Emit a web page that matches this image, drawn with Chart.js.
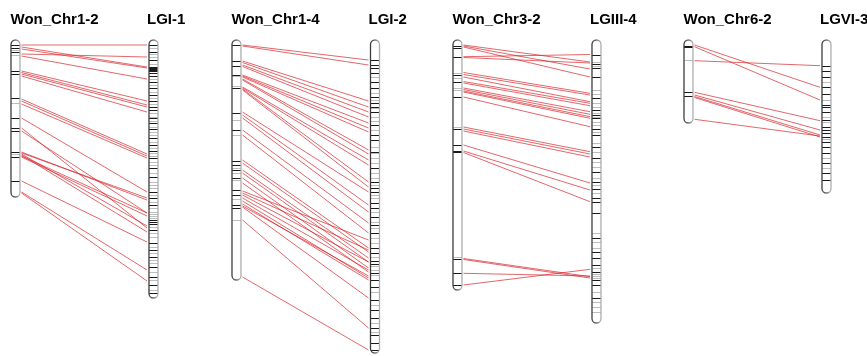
<!DOCTYPE html>
<html><head><meta charset="utf-8">
<script src="https://cdn.jsdelivr.net/npm/chart.js@4.4.0/dist/chart.umd.min.js"></script>
<style>html,body{margin:0;padding:0;background:#fff}#wrap{width:867px;height:356px;position:relative}</style>
</head><body><div id="wrap"><canvas id="c"></canvas></div>
<script>
// ---- DATA (positions measured from top of each chromosome) ----
const leftNames  = ["Won_Chr1-2", "Won_Chr1-4", "Won_Chr3-2", "Won_Chr6-2"];
const rightNames = ["LGI-1", "LGI-2", "LGIII-4", "LGVI-3"];
const leftLengths  = [157, 240, 250, 83];
const rightLengths = [258, 313, 283, 153];

// links: [position on left chromosome, position on right chromosome]
const links1 = [[5,5],[7,27],[9,28],[14,17],[16,39],
  [31,61],[32.5,65],[34,67],[36,72],
  [59,114],[61,116],[64,118],
  [78,152],[88,188],[91,173],
  [112,160],[113,158],[114,186],[115,192],[116,173],[117,176],
  [141,202],[152,230],[153,241]];
const links2 = [[5,20],[6,25],
  [21,61],[22.5,67],[25,72],[26.5,77],
  [35,83],[36,88],[37,92],[39,110],[40,114],
  [47,120],[48,125],[49,142],[50,147],
  [72,152],[75,165],[78,172],
  [90,183],[95,193],
  [120,208],[123,212],[130,218],[133,222],[138,228],[143,232],
  [151,200],[153,210],[155,222],[158,230],[161,238],[164,240],[166,236],[167,258],
  [180,288],[237,310]];
const links3 = [[5,22],[6,29],[7,37],[16.7,14.5],[17.5,23],
  [32.5,53.3],[34.5,55],[37,61.7],[41.5,63.3],[43,65.7],[48,71.7],[49.5,74.3],[51,76.7],[52,78.3],[57,86.7],
  [87,111.7],[89,114],[91,117],
  [105,143],[111,150],[112.5,161.7],
  [218.5,236.7],[219.5,238],[233.3,236],[245,229.3]];
const links4 = [[5,47.3],[6.7,60],[20.7,25.7],[52.3,80.7],[55,90],[56.5,95],[57.5,97],[79.3,96]];

// bands (dark / grey) per chromosome
const bandsDarkL1 = [5,8,12,31,34,58,78,88,91,112,117,141];
const bandsGreyL1 = [10,15,63,114];
const bandsDarkR1 = [5,12,20,27,28,29,30,31,33,36,42,48,55,61,67,70,78,83,89,98,105,111,118,128,137,152,158,165,180,182,184,190,203,210,217,227,237,245,253];
const bandsGreyR1 = [8,14,17,24,39,45,52,58,64,73,77,81,87,92,95,102,108,113,116,122,125,133,142,145,148,155,162,168,172,174,176,178,187,193,197,207,213,220,223,232,240,250];
const bandsDarkL2 = [5,21,26,35,48,73,90,121,125,130,138,150,155,165,168];
const bandsGreyL2 = [36,46,80,95,128,133,140,159,180];
const bandsDarkR2 = [20,25,28,33,42,48,57,63,67,72,85,95,100,112,128,142,148,152,163,168,177,185,193,208,213,221,224,233,240,247,260,270,278,288,295,303,310];
const bandsGreyR2 = [37,53,60,68,77,81,90,107,113,118,123,133,138,145,155,158,172,182,188,198,203,217,226,230,235,252,265,283,292];
const bandsDarkL3 = [6,7.7,16.7,35,41.7,56.7,89.3,105,111,112.3,219,233.3,245];
const bandsGreyL3 = [33,38,47.7,50,86.7,216.7];
const bandsDarkR3 = [15,24.3,28.3,36.7,58.3,70,75,78.3,89,95,106.7,117.7,131.7,141.7,149,158.3,161.7,173.3,198.3,211.7,217.7,225,232.3,240,245,258.3];
const bandsGreyR3 = [21.7,26,50,54.3,63.3,66.7,73.3,76.7,81.7,85,91.7,95,103.3,111.7,121.7,126.7,138.3,145,153.3,193.3,201.7,208.3,228.3,234.3,236,237.7,251.7,261.7,266.7,271.7];
const bandsDarkL4 = [5.7,7,52.3,55.7];
const bandsGreyL4 = [20];
const bandsDarkR4 = [25.7,30.7,36.7,47.3,54,65,67.3,71.7,80,86.7,90,92.7,96.7,101.7,106.7,112.7,123.3,133.3,140];
const bandsGreyR4 = [41.7,60,76.7,81.7,99.3,118.3,128.3];

// ---- LAYOUT ----
const pairX = [[15.5,153.5],[236.5,375],[457.5,596.5],[688.5,826.5]];
const halfW = 4.5;
const allLinks = [links1, links2, links3, links4];
const leftDark = [bandsDarkL1,bandsDarkL2,bandsDarkL3,bandsDarkL4];
const leftGrey = [bandsGreyL1,bandsGreyL2,bandsGreyL3,bandsGreyL4];
const rightDark = [bandsDarkR1,bandsDarkR2,bandsDarkR3,bandsDarkR4];
const rightGrey = [bandsGreyR1,bandsGreyR2,bandsGreyR3,bandsGreyR4];

const datasets = allLinks.map((links, i) => {
  const data = [];
  links.forEach(([l, r]) => {
    data.push({x: pairX[i][0] + halfW + 1.5, y: l});
    data.push({x: pairX[i][1] - halfW - 2, y: r});
    data.push({x: pairX[i][1], y: null});
  });
  return {data, borderColor: 'rgba(212,30,36,0.8)', borderWidth: 0.85, pointRadius: 0, spanGaps: false, tension: 0};
});

function chromPath(ctx, x0, x1, yt, yb) {
  const r = (x1 - x0) / 2, mx = (x0 + x1) / 2;
  ctx.beginPath();
  ctx.moveTo(x0, yt + r);
  ctx.arc(mx, yt + r, r, Math.PI, 0);
  ctx.lineTo(x1, yb - r);
  ctx.arc(mx, yb - r, r, 0, Math.PI);
  ctx.closePath();
}

function drawChrom(ctx, xs, ys, cx, len, dark, grey) {
  const x0 = xs.getPixelForValue(cx - halfW), x1 = xs.getPixelForValue(cx + halfW);
  const yt = ys.getPixelForValue(0), yb = ys.getPixelForValue(len);
  ctx.save();
  chromPath(ctx, x0, x1, yt, yb);
  ctx.fillStyle = '#fff';
  ctx.fill();
  ctx.save();
  ctx.clip();
  grey.forEach(v => { const y = Math.round(ys.getPixelForValue(v)) + 0.5;
    ctx.strokeStyle = '#bdbdbd'; ctx.lineWidth = 1; ctx.beginPath(); ctx.moveTo(x0, y); ctx.lineTo(x1, y); ctx.stroke(); });
  dark.forEach(v => { const y = Math.round(ys.getPixelForValue(v)) + 0.5;
    ctx.strokeStyle = '#1a1a1a'; ctx.lineWidth = 1; ctx.beginPath(); ctx.moveTo(x0, y); ctx.lineTo(x1, y); ctx.stroke(); });
  ctx.restore();
  chromPath(ctx, x0, x1, yt, yb);
  const g = ctx.createLinearGradient(x0, 0, x1, 0);
  g.addColorStop(0, '#3a3a3a'); g.addColorStop(0.5, '#777'); g.addColorStop(1, '#b0b0b0');
  ctx.strokeStyle = g; ctx.lineWidth = 1.3;
  ctx.stroke();
  ctx.restore();
}

const chromPlugin = {
  id: 'chroms',
  afterDatasetsDraw(chart) {
    const ctx = chart.ctx, xs = chart.scales.x, ys = chart.scales.y;
    pairX.forEach((p, i) => {
      drawChrom(ctx, xs, ys, p[0], leftLengths[i], leftDark[i], leftGrey[i]);
      drawChrom(ctx, xs, ys, p[1], rightLengths[i], rightDark[i], rightGrey[i]);
      ctx.save();
      ctx.fillStyle = '#000';
      ctx.font = 'bold 15px "Liberation Sans", Arial, sans-serif';
      ctx.textBaseline = 'alphabetic';
      ctx.textAlign = 'left';
      ctx.fillText(leftNames[i], xs.getPixelForValue(p[0] - halfW - 0.5), 24);
      ctx.fillText(rightNames[i], xs.getPixelForValue(p[1] - halfW - 2), 24);
      ctx.restore();
    });
  }
};

new Chart(document.getElementById('c'), {
  type: 'line',
  data: { datasets },
  options: {
    responsive: true, maintainAspectRatio: false, animation: false,
    layout: { padding: 0 },
    plugins: { legend: { display: false }, tooltip: { enabled: false } },
    scales: {
      x: { type: 'linear', min: 0, max: 867, display: false },
      y: { type: 'linear', min: -40, max: 316, reverse: true, display: false }
    }
  },
  plugins: [chromPlugin]
});
</script>
</body></html>
